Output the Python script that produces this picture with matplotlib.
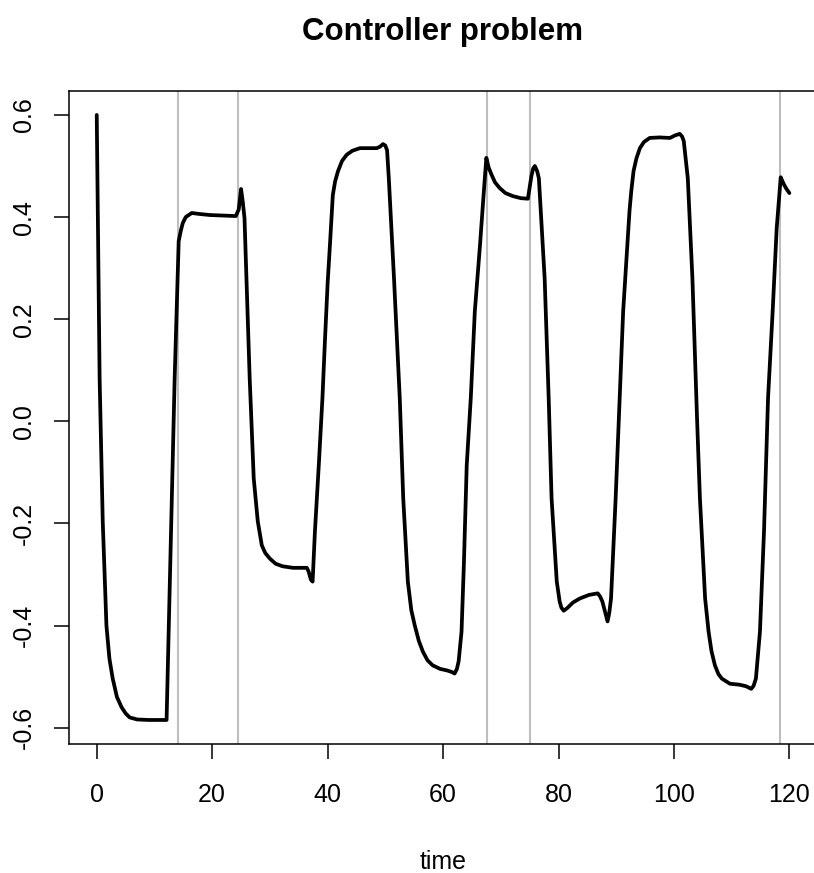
import matplotlib
matplotlib.use("Agg")
import matplotlib.pyplot as plt

plt.rcParams["font.family"] = ["Liberation Sans", "DejaVu Sans"]

# controller output
t = [0, 0.5, 1.04, 1.68, 2.2, 2.77, 3.5, 4.3, 5.0, 5.7, 7.0, 9.0, 12.1,
     13.5, 14.2, 14.56, 14.9, 15.42, 16.46, 17.85, 19.6, 24.1,
     24.6, 25.0, 25.3, 25.6, 26.5,
     27.2, 27.9, 28.6, 29.2, 30.0, 31.0, 32.2, 34.0, 36.4, 36.7, 37.1, 37.4,
     37.8, 38.5, 39.1, 39.5, 40.0, 40.4, 40.9, 41.3, 41.8, 42.5, 43.3, 44.3,
     45.6, 48.5, 49.1, 49.6, 50.0, 50.3, 50.6, 51.5, 52.5,
     53.1, 53.9, 54.5, 55.1, 55.8, 56.5, 57.3, 58.2, 59.5, 60.7, 61.5, 62.0,
     62.4, 62.7, 63.2, 63.6, 64.1, 64.8, 65.5, 66.4, 67.0, 67.5,
     67.9, 68.4, 69.0, 69.8, 70.8, 72.1, 73.5, 74.7, 75.3, 75.6, 75.9, 76.3,
     76.6, 77.6, 78.3,
     78.8, 79.7, 80.2, 80.5, 80.9, 81.5, 82.5, 83.7, 85.3, 86.8, 87.2, 87.6,
     88.1, 88.5, 88.8, 89.1, 89.9, 90.6, 91.2, 92.3, 92.6, 93.0, 93.5, 94.1,
     94.8, 95.8, 97.5, 99.3, 100.2, 101.0, 101.4, 101.7, 102.4, 103.2, 104.0,
     104.5, 105.4, 106.0, 106.5, 107.1, 107.7, 108.3, 109.7, 111.4, 112.5,
     113.4, 113.8, 114.2, 114.9, 115.6, 116.3, 117.1, 117.8, 118.5, 119.0,
     119.5, 120.0]
u = [0.6, 0.084, -0.196, -0.4, -0.465, -0.504, -0.54, -0.56, -0.572, -0.58, -0.584, -0.585, -0.585,
     0.084, 0.353, 0.373, 0.388, 0.4, 0.408, 0.406, 0.404, 0.402,
     0.415, 0.455, 0.43, 0.398, 0.084,
     -0.112, -0.196, -0.243, -0.258, -0.269, -0.279, -0.284, -0.287, -0.287, -0.294, -0.31, -0.314,
     -0.216, -0.08, 0.045, 0.149, 0.27, 0.345, 0.443, 0.47, 0.49, 0.51, 0.522, 0.53,
     0.535, 0.535, 0.538, 0.543, 0.54, 0.531, 0.476, 0.28, 0.045,
     -0.151, -0.314, -0.37, -0.4, -0.43, -0.451, -0.468, -0.478, -0.485, -0.488, -0.491, -0.494,
     -0.485, -0.47, -0.412, -0.282, -0.086, 0.045, 0.215, 0.345, 0.44, 0.516,
     0.497, 0.483, 0.468, 0.457, 0.447, 0.441, 0.437, 0.436, 0.48, 0.495, 0.5, 0.49,
     0.476, 0.28, 0.045,
     -0.151, -0.314, -0.353, -0.365, -0.371, -0.366, -0.355, -0.347, -0.34, -0.337, -0.343, -0.353,
     -0.375, -0.392, -0.375, -0.347, -0.151, 0.045, 0.215, 0.412, 0.45, 0.49, 0.515, 0.535,
     0.547, 0.555, 0.556, 0.555, 0.56, 0.563, 0.558, 0.549, 0.476, 0.28, 0.006,
     -0.151, -0.347, -0.412, -0.45, -0.478, -0.495, -0.504, -0.514, -0.516, -0.519,
     -0.524, -0.518, -0.504, -0.412, -0.216, 0.045, 0.215, 0.378, 0.478, 0.465,
     0.455, 0.447]

events = [14.0, 24.4, 67.6, 75.0, 118.4]

fig = plt.figure(figsize=(8.14, 8.73), dpi=100)
ax = fig.add_axes([0.0848, 0.1478, 0.919, 0.748])

for e in events:
    ax.axvline(e, color="#bebebe", lw=1.5, zorder=1)
ax.plot(t, u, color="black", lw=2.7, zorder=2,
        solid_joinstyle="round", solid_capstyle="round")

ax.set_xlim(-4.8, 124.8)
ax.set_ylim(-0.632, 0.647)
ax.set_xticks([0, 20, 40, 60, 80, 100, 120])
ax.set_yticks([-0.6, -0.4, -0.2, 0.0, 0.2, 0.4, 0.6])
ax.set_yticklabels(["-0.6", "-0.4", "-0.2", "0.0", "0.2", "0.4", "0.6"],
                   rotation=90, va="center")
ax.tick_params(direction="out", length=11, width=1.1, labelsize=18, colors="black")
ax.tick_params(axis="x", pad=17)
ax.tick_params(axis="y", pad=13)
for s in ax.spines.values():
    s.set_linewidth(1.1)

ax.set_xlabel("time", fontsize=18, labelpad=31)
ax.set_title("Controller problem", fontsize=22.5, fontweight="bold", pad=37)

fig.savefig("out.png", dpi=100)
